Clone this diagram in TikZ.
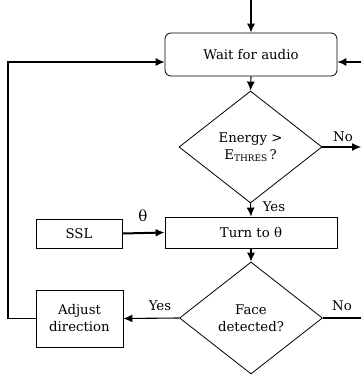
\documentclass[tikz,border=0pt]{standalone}
\usepackage{fontspec}
\setmainfont{DejaVu Serif}
\usetikzlibrary{shapes.geometric,arrows.meta,calc}
\begin{document}
\begin{tikzpicture}[x=1pt,y=-1pt,
  every node/.style={font=\fontsize{13.3}{17}\selectfont},
  box/.style={draw,line width=0.8pt,inner sep=0pt,align=center},
  dia/.style={draw,diamond,line width=0.8pt,inner sep=0pt,align=center,minimum width=143pt,minimum height=112pt},
  arr/.style={line width=1.1pt,-{Latex[length=9pt,width=8pt]}},
  line/.style={line width=1.1pt},
  lbl/.style={inner sep=0pt}
]
\useasboundingbox (0,0) rectangle (361,374);
\node[box,rounded corners=6pt,minimum width=172pt,minimum height=43pt] (wait) at (251,54.5) {Wait for audio};
\node[dia] (d1) at (250.5,147) {Energy >\\E\raisebox{-1.5pt}{\fontsize{9}{10}\selectfont THRES}\,?};
\node[box,minimum width=172pt,minimum height=31pt] (turn) at (251,232.5) {Turn to θ};
\node[box,minimum width=86pt,minimum height=29pt] (ssl) at (79,233.5) {SSL};
\node[dia] (d2) at (251,318) {Face\\detected?};
\node[box,minimum width=87pt,minimum height=57pt] (adj) at (79.5,318.5) {Adjust\\direction};

\coordinate (top) at (251,0);
\coordinate (no1) at (361,147);
\coordinate (no2) at (361,318);
\coordinate (lin) at (8,62);
\coordinate (rin) at (361,62);

\draw[arr] (top) -- (wait.north);
\draw[arr] (wait.south) -- (d1.north);
\draw[arr] (d1.east) -- (no1);
\draw[arr] (d1.south) -- (turn.north);
\draw[arr,line width=2pt] (ssl.east) -- (turn.west);
\draw[arr] (turn.south) -- (d2.north);
\draw[arr] (d2.west) -- (adj.east);
\draw[line] (d2.east) -- (no2);
\draw[arr] (adj.west) -| (lin) -- (lin -| wait.west);
\draw[arr] (rin) -- (rin -| wait.east);

\node[lbl] (lno1) at (343,137) {No};
\node[lbl] (lyes1) at (274,207) {Yes};
\node[lbl,font=\fontsize{15}{17}\selectfont] (lth) at (143,216) {θ};
\node[lbl] (lyes2) at (160,306) {Yes};
\node[lbl] (lno2) at (342,306) {No};
\end{tikzpicture}
\end{document}
